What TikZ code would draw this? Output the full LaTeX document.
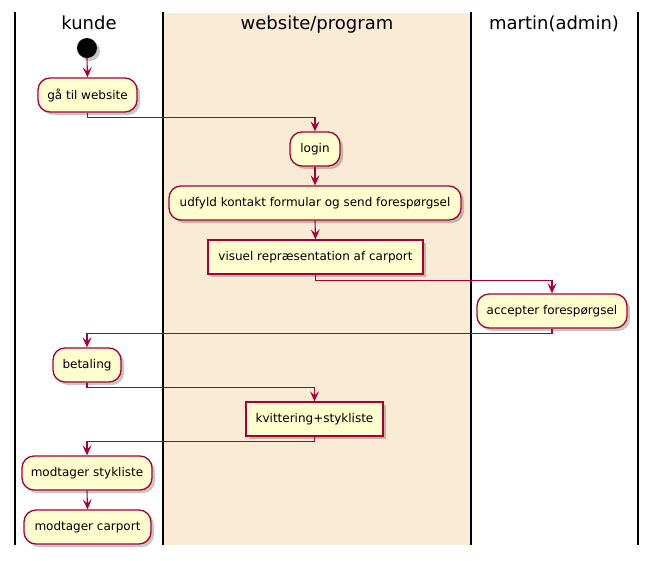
\documentclass[tikz,border=0pt]{standalone}
\usepackage{fontspec}
\setmainfont{DejaVu Sans}
\usetikzlibrary{arrows.meta,shadows}
\definecolor{boxfill}{HTML}{FEFECE}
\definecolor{boxline}{HTML}{A80036}
\definecolor{lanefill}{HTML}{FAEBD7}
\tikzset{
  shad/.style={drop shadow={shadow xshift=3pt,shadow yshift=-3pt,fill=black,opacity=0.22}},
  act/.style={shad,draw=boxline,fill=boxfill,line width=1.3pt,rounded corners=12pt,minimum height=34pt,inner sep=0pt,font=\fontsize{12}{14}\selectfont},
  rbox/.style={shad,draw=boxline,fill=boxfill,line width=1.3pt,minimum height=34pt,inner sep=0pt,font=\fontsize{12}{14}\selectfont},
  startnode/.style={shad,circle,fill=black,minimum size=20pt,inner sep=0pt},
  flow/.style={draw=boxline,line width=1.1pt,-{Stealth[length=10pt,width=9pt,inset=4pt]}},
  lane/.style={line width=1.6pt,black},
  lanetitle/.style={font=\fontsize{18}{20}\selectfont,anchor=base,inner sep=0pt}
}
\begin{document}
\begin{tikzpicture}[x=1pt,y=-1pt]
\useasboundingbox (0,0) rectangle (656,560);
\fill[lanefill] (164,13) rectangle (470,545);
\draw[lane] (15,12) -- (15,545);
\draw[lane] (163,12) -- (163,545);
\draw[lane] (471,12) -- (471,545);
\draw[lane] (638,12) -- (638,545);
\node[lanetitle] (t1) at (89,29) {kunde};
\node[lanetitle] (t2) at (317,29) {website/program};
\node[lanetitle] (t3) at (554,29) {martin(admin)};

\node[startnode] (s) at (87,48) {};
\node[act,minimum width=99pt] (a1) at (87.5,95) {gå til website};
\node[act,minimum width=50pt] (a2) at (315,149) {login};
\node[act,minimum width=292pt] (a3) at (315,203) {udfyld kontakt formular og send forespørgsel};
\node[rbox,minimum width=215pt] (a4) at (315.5,257) {visuel repræsentation af carport};
\node[act,minimum width=150pt] (a5) at (552,311) {accepter forespørgsel};
\node[act,minimum width=68pt] (a6) at (87,365) {betaling};
\node[rbox,minimum width=137pt] (a7) at (314.5,419) {kvittering+stykliste};
\node[act,minimum width=130pt] (a8) at (87,473) {modtager stykliste};
\node[act,minimum width=127pt] (a9) at (87.5,527) {modtager carport};

\draw[flow] (s.south) -- (a1.north);
\draw[flow] (a1.south) -- ++(0,5) -| (a2.north);
\draw[flow] (a2.south) -- (a3.north);
\draw[flow] (a3.south) -- (a4.north);
\draw[flow] (a4.south) -- ++(0,6) -| (a5.north);
\draw[flow] (a5.south) -- ++(0,5) -| (a6.north);
\draw[flow] (a6.south) -- ++(0,5) -| (a7.north);
\draw[flow] (a7.south) -- ++(0,5) -| (a8.north);
\draw[flow] (a8.south) -- (a9.north);
\end{tikzpicture}
\end{document}
